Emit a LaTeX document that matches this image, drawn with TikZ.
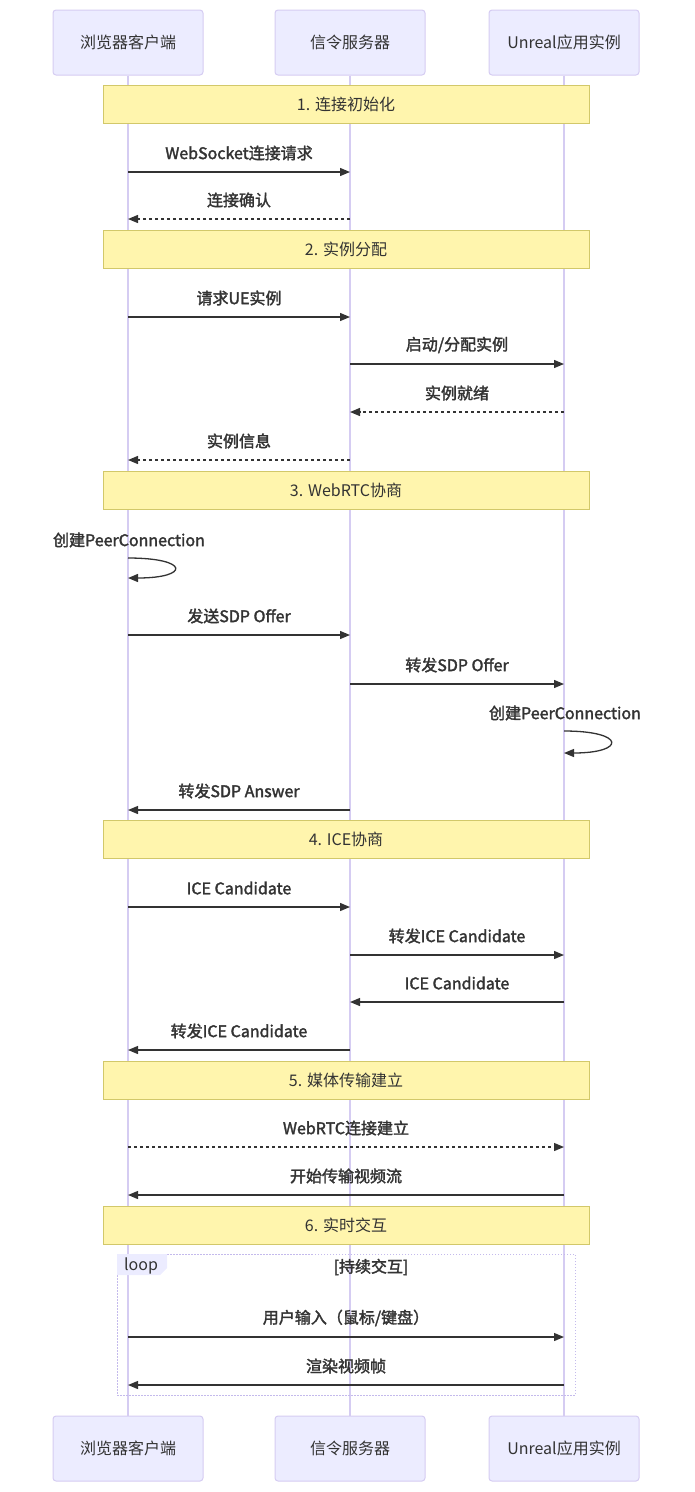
\documentclass[tikz,border=0pt]{standalone}
\usepackage{fontspec}
\setmainfont{Noto Sans CJK SC}
\newfontfamily\semibold[FakeBold=2]{Noto Sans CJK SC}
\usetikzlibrary{arrows.meta}
\definecolor{actorfill}{HTML}{ECECFF}
\definecolor{actorline}{HTML}{D5CCF2}
\definecolor{loopline}{HTML}{C4BAEC}
\definecolor{notefill}{HTML}{FFF5AD}
\definecolor{noteline}{HTML}{D2C86A}
\definecolor{msgline}{HTML}{333333}
\tikzset{
  actor/.style={draw=actorline, fill=actorfill, rounded corners=3pt, line width=1pt,
    minimum width=150pt, minimum height=65pt, font=\fontsize{16}{18}\selectfont, text=msgline},
  life/.style={actorline, line width=1.5pt},
  note/.style={draw=noteline, fill=notefill, line width=1pt, minimum width=486pt,
    minimum height=38pt, font=\fontsize{16}{18}\selectfont, text=msgline},
  msg/.style={msgline, line width=1.3pt, ->, >={Triangle[length=10pt,width=8pt]}},
  reply/.style={msg, dash pattern=on 3pt off 3pt},
  lbl/.style={font=\fontsize{16}{18}\semibold, text=msgline, inner sep=1pt}
}
\begin{document}
\begin{tikzpicture}[x=1pt, y=-1pt]
\useasboundingbox (0,0) rectangle (694,1492);
% participants
\node[actor] (b1) at (128,42.5) {浏览器客户端};
\node[actor] (s1) at (350,42.5) {信令服务器};
\node[actor] (u1) at (564,42.5) {Unreal应用实例};
\node[actor] (b2) at (128,1448.5) {浏览器客户端};
\node[actor] (s2) at (350,1448.5) {信令服务器};
\node[actor] (u2) at (564,1448.5) {Unreal应用实例};
\foreach \p in {b,s,u} {
  \draw[life] (\p1.south) -- (\p2.north);
}
% phases
\foreach \y/\t [count=\i] in {104/{1. 连接初始化}, 249/{2. 实例分配}, 490/{3. WebRTC协商},
    839/{4. ICE协商}, 1080/{5. 媒体传输建立}, 1225/{6. 实时交互}} {
  \node[note] (n\i) at (346,\y) {\t};
}
% messages
\foreach \y/\a/\b/\st/\t in {
  172/b1/s1/msg/{WebSocket连接请求},
  219/s1/b1/reply/{连接确认},
  317/b1/s1/msg/{请求UE实例},
  364/s1/u1/msg/{启动/分配实例},
  412/u1/s1/reply/{实例就绪},
  460/s1/b1/reply/{实例信息},
  635/b1/s1/msg/{发送SDP Offer},
  684/s1/u1/msg/{转发SDP Offer},
  810/s1/b1/msg/{转发SDP Answer},
  907/b1/s1/msg/{ICE Candidate},
  955/s1/u1/msg/{转发ICE Candidate},
  1002/u1/s1/msg/{ICE Candidate},
  1050/s1/b1/msg/{转发ICE Candidate},
  1147/b1/u1/reply/{WebRTC连接建立},
  1195/u1/b1/msg/{开始传输视频流},
  1337/b1/u1/msg/{用户输入（鼠标/键盘）},
  1385/u1/b1/msg/{渲染视频帧}} {
  \draw[\st] (\a |- 0,\y) -- (\b |- 0,\y) node[lbl, midway, yshift=19pt] {\t};
}
% self calls
\node[lbl] (pc1) at (129,540) {创建PeerConnection};
\draw[msg] (b1 |- 0,558) .. controls +(62,0) and +(62,0) .. (b1 |- 0,578);
\node[lbl] (pc2) at (565,713) {创建PeerConnection};
\draw[msg] (u1 |- 0,731) .. controls +(62,0) and +(62,0) .. (u1 |- 0,753);
% loop frame
\draw[loopline, line width=1pt, dash pattern=on 1.5pt off 1.5pt] (117,1254) rectangle (575,1395);
\fill[actorfill] (117,1254) -- (167,1254) -- (167,1268) -- (160,1275) -- (117,1275) -- cycle;
\node[font=\fontsize{16}{18}\selectfont, text=msgline] (lp) at (141,1266) {loop};
\node[lbl] (cond) at (371,1267) {[持续交互]};
\end{tikzpicture}
\end{document}
